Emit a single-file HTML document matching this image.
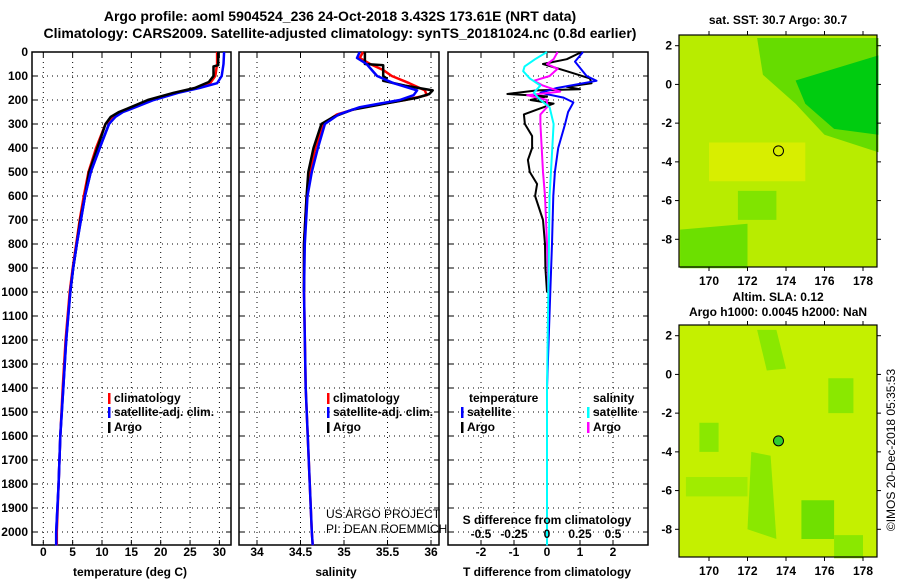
<!DOCTYPE html>
<html><head><meta charset="utf-8">
<style>
html,body{margin:0;padding:0;background:#fff;}
svg{display:block;font-family:"Liberation Sans",Arial,sans-serif;}
.b{font-weight:bold;font-size:12px;}
.t{font-weight:bold;font-size:14px;}
</style></head>
<body>
<svg id="fig" width="900" height="580" viewBox="0 0 900 580">
<text class="t" x="340" y="21" text-anchor="middle">Argo profile: aoml 5904524_236 24-Oct-2018 3.432S 173.61E (NRT data)</text>
<text class="t" x="340" y="38" text-anchor="middle">Climatology: CARS2009. Satellite-adjusted climatology: synTS_20181024.nc (0.8d earlier)</text>
<g id="plots"></g>
</svg>
<script>
// ---- data ----
const depthTicks=[0,100,200,300,400,500,600,700,800,900,1000,1100,1200,1300,1400,1500,1600,1700,1800,1900,2000];
const tempTicks=[0,5,10,15,20,25,30];
const salTicks=[34,34.5,35,35.5,36];
const tdiffTicks=[-2,-1,0,1,2];
const sdiffTicks=[-0.5,-0.25,0,0.25,0.5];
const sdiffLabels=["-0.5","-0.25","0","0.25","0.5"];

const tClimDepth=[0,50,100,130,150,170,200,230,250,270,300,400,500,600,700,800,900,1000,1200,1400,1600,1800,2000,2055];
const tClim=[29.6,29.6,29.3,28.4,26.0,22.5,18.3,15.1,13.0,11.8,10.6,9.0,7.7,6.9,6.2,5.6,5.0,4.5,3.8,3.3,2.9,2.6,2.3,2.3];
const tSat=[30.8,30.7,30.4,29.6,26.6,23.0,18.8,15.7,13.6,12.3,11.2,9.6,8.1,7.1,6.4,5.7,5.1,4.6,3.9,3.4,2.9,2.6,2.2,2.2];
const tArgoDepth=[0,55,60,100,125,150,170,200,230,250,270,300,400,500,600,700,800,900,1000];
const tArgo=[29.8,29.8,29.0,29.0,28.2,25.8,22.2,17.8,14.9,12.9,11.5,10.6,9.2,7.8,7.1,6.3,5.7,5.1,4.6];

const sDepth=[0,25,50,75,100,130,160,180,200,230,260,300,400,500,600,800,1000,1400,2000,2055];
const sClim=[35.22,35.18,35.30,35.45,35.55,35.75,35.93,35.95,35.70,35.20,34.92,34.76,34.67,34.61,34.57,34.54,34.54,34.56,34.63,34.64];
const sSat=[35.18,35.15,35.26,35.32,35.38,35.57,35.84,35.80,35.64,35.18,34.94,34.78,34.70,34.63,34.58,34.55,34.54,34.56,34.63,34.64];
const sArgoDepth=[0,50,55,100,110,120,140,160,175,190,210,240,270,300,400,500,600,800,1000];
const sArgo=[35.24,35.24,35.45,35.45,35.49,35.45,35.70,36.02,35.98,35.85,35.55,35.10,34.88,34.74,34.65,34.59,34.57,34.54,34.54];

const dtSatDepth=[0,40,100,120,150,170,190,210,250,300,400,500,600,800,1000,1400,2055];
const dtSat=[1.09,0.85,1.2,1.5,0.3,-0.2,0.5,0.8,0.64,0.55,0.34,0.24,0.19,0.15,0.1,0.0,0.0];
const dtArgoDepth=[0,30,50,80,110,130,145,155,160,175,185,200,215,240,260,300,350,400,450,500,550,600,700,800,900,1000];
const dtArgo=[1.05,0.6,-0.12,0.6,1.3,1.35,0.6,1.0,-0.3,-1.2,0.0,-0.5,0.2,-0.3,-0.7,-0.67,-0.45,-0.45,-0.58,-0.52,-0.3,-0.36,-0.12,-0.06,-0.05,0.0];
const dsSatDepth=[0,30,60,80,110,140,170,200,230,300,400,600,1000,1400,2055];
const dsSat=[0.0,-0.09,-0.17,-0.18,-0.13,-0.05,-0.1,-0.05,0.02,0.05,0.04,0.02,0.01,0.0,0.0];
const dsArgoDepth=[0,30,50,70,100,120,140,165,180,200,230,260,300,400,500,600,800,1000];
const dsArgo=[0.08,0.05,0.0,0.08,0.02,-0.1,-0.03,0.1,-0.15,0.0,0.0,-0.05,-0.05,-0.04,-0.03,-0.015,0.0,0.01];

// ---- geometry ----
const NS="http://www.w3.org/2000/svg";
const g=document.getElementById('plots');
const top0=52, bot=545;
const yD=d=>top0+d*0.24;
const P1={x0:32,x1:231}, P2={x0:239,x1:439}, P3={x0:448,x1:648};
const xT=v=>43.3+v*5.87;
const xS=v=>257+(v-34)*87;
const xDT=v=>547+v*33;
const xDS=v=>547+v*132;
function el(tag,attrs,parent){const e=document.createElementNS(NS,tag);for(const k in attrs)e.setAttribute(k,attrs[k]);(parent||g).appendChild(e);return e;}
function txt(x,y,s,cls,anchor){const e=el('text',{x:x,y:y,'class':cls||'b','text-anchor':anchor||'start'});e.textContent=s;return e;}

function frame(P,name){
  const r=el('rect',{x:P.x0,y:top0,width:P.x1-P.x0,height:bot-top0,fill:'none',stroke:'#000','stroke-width':1.5});
  
  
  depthTicks.forEach(d=>{
    const l=el('line',{x1:P.x0,x2:P.x1,y1:yD(d),y2:yD(d),stroke:'#000','stroke-width':1,'stroke-dasharray':'1,4'});
    
    
    el('line',{x1:P.x0,x2:P.x0+5,y1:yD(d),y2:yD(d),stroke:'#000'});
    el('line',{x1:P.x1-5,x2:P.x1,y1:yD(d),y2:yD(d),stroke:'#000'});
  });
}
function vgrid(P,ticks,fx,labels,ly,name){
  ticks.forEach((t,i)=>{
    const x=fx(t);
    const l=el('line',{x1:x,x2:x,y1:top0,y2:bot,stroke:'#000','stroke-width':1,'stroke-dasharray':'1,4'});
    
    
    el('line',{x1:x,x2:x,y1:bot-5,y2:bot,stroke:'#000'});
    el('line',{x1:x,x2:x,y1:top0,y2:top0+5,stroke:'#000'});
    if(labels){const tl=txt(x,ly,labels[i],'b','middle');
      
      }
  });
}
function line(depths,vals,fx,color,name,w){
  const pts=depths.map((d,i)=>fx(vals[i]).toFixed(1)+','+yD(Math.min(d,2055)).toFixed(1)).join(' ');
  const p=el('polyline',{points:pts,fill:'none',stroke:color,'stroke-width':w||2.5,'stroke-linejoin':'round'});
  
  
}
function legend(x,y,color,label,name){
  el('rect',{x:x,y:y-9,width:2.5,height:11,fill:color});
  const t=txt(x+6,y,label);
  
  
}

// y tick labels
depthTicks.forEach(d=>{const t=txt(28,yD(d)+4,String(d),'b','end');
  
  });

// panel 1
frame(P1,'temperature-panel');
vgrid(P1,tempTicks,xT,tempTicks.map(String),556,'temperature');
line(tClimDepth,tClim,xT,'#f00','temperature-climatology-line');
line(tClimDepth,tSat,xT,'#00f','temperature-satellite-line');
line(tArgoDepth,tArgo,xT,'#000','temperature-argo-line');
line(tClimDepth.slice(10),tSat.slice(10),xT,'#00f','temperature-satellite-deep-line');
legend(108,402,'#f00','climatology','legend-climatology-temp');
legend(108,416,'#00f','satellite-adj. clim.','legend-satellite-temp');
legend(108,431,'#000','Argo','legend-argo-temp');
let xl=txt(130,576,'temperature (deg C)','b','middle');

// panel 2
frame(P2,'salinity-panel');
vgrid(P2,salTicks,xS,salTicks.map(String),556,'salinity');
line(sDepth,sClim,xS,'#f00','salinity-climatology-line');
line(sArgoDepth,sArgo,xS,'#000','salinity-argo-line');
line(sDepth,sSat,xS,'#00f','salinity-satellite-line');
legend(327,402,'#f00','climatology','legend-climatology-sal');
legend(327,416,'#00f','satellite-adj. clim.','legend-satellite-sal');
legend(327,431,'#000','Argo','legend-argo-sal');
xl=txt(336,576,'salinity','b','middle');
let c1=el('text',{x:326,y:518,'font-size':'12'});c1.textContent='US ARGO PROJECT';
let c2=el('text',{x:326,y:533,'font-size':'12'});c2.textContent='PI: DEAN ROEMMICH';

// panel 3
frame(P3,'difference-panel');
vgrid(P3,tdiffTicks,xDT,tdiffTicks.map(String),556,'t-difference');
line(dtArgoDepth,dtArgo,xDT,'#000','t-diff-argo-line',2);
line(dtSatDepth,dtSat,xDT,'#00f','t-diff-satellite-line',2);
line(dsArgoDepth,dsArgo,xDS,'#f0f','s-diff-argo-line',2);
line(dsSatDepth,dsSat,xDS,'#0ff','s-diff-satellite-line',2);
sdiffTicks.forEach((t,i)=>{const tl=txt(xDS(t),538,sdiffLabels[i],'b','middle');
  });
let st=txt(547,524,'S difference from climatology','b','middle');
xl=txt(547,576,'T difference from climatology','b','middle');
let lt=txt(469,402,'temperature');
legend(461,416,'#00f','satellite','legend-t-satellite');
legend(461,431,'#000','Argo','legend-t-argo');
let ls=txt(593,402,'salinity');
legend(587,416,'#0ff','satellite','legend-s-satellite');
legend(587,431,'#f0f','Argo','legend-s-argo');

// ---- maps ----
const lonTicks=[170,172,174,176,178];
const latTicks=[2,0,-2,-4,-6,-8];
const argoLon=173.61, argoLat=-3.432;
const xL=v=>709+(v-170)*19.25;
function map(y0,name,base,patches,dotFill){
  const yl=v=>y0+10.7+(2-v)*19.36;
  const mg=el('g',{});
  
  
  el('rect',{x:679,y:y0,width:198,height:232,fill:base},mg);
  patches.forEach(p=>el('polygon',{points:p.pts.map(q=>xL(q[0]).toFixed(1)+','+yl(q[1]).toFixed(1)).join(' '),fill:p.c},mg));
  el('circle',{cx:xL(argoLon),cy:yl(argoLat),r:5,fill:dotFill,stroke:'#000','stroke-width':1},mg);
  el('rect',{x:679,y:y0,width:198,height:232,fill:'none',stroke:'#000','stroke-width':1.2},mg);
  lonTicks.forEach(t=>{el('line',{x1:xL(t),x2:xL(t),y1:y0,y2:y0-4,stroke:'#000'},mg);el('line',{x1:xL(t),x2:xL(t),y1:y0+232,y2:y0+236,stroke:'#000'},mg);
    const tl=txt(xL(t),y0+250,String(t),'b','middle');});
  latTicks.forEach(t=>{el('line',{x1:675,x2:679,y1:yl(t),y2:yl(t),stroke:'#000'},mg);el('line',{x1:877,x2:881,y1:yl(t),y2:yl(t),stroke:'#000'},mg);
    const tl=txt(672,yl(t)+4,String(t),'b','end');});
}
map(35,'sst-map','#b8ec00',[
  {c:'#66dc00',pts:[[172.5,2.4],[178.8,2.4],[178.8,-3.5],[176,-2.6],[174.5,-1],[172.8,0.5]]},
  {c:'#00cc10',pts:[[174.5,0.2],[178.8,1.5],[178.8,-2.6],[176.5,-2.3],[175,-1.0]]},
  {c:'#6ce000',pts:[[168.5,-7.5],[172,-7.2],[172,-9.5],[168.5,-9.5]]},
  {c:'#80e400',pts:[[171.5,-5.5],[173.5,-5.5],[173.5,-7],[171.5,-7]]},
  {c:'#d8ee00',pts:[[170,-3],[175,-3],[175,-5],[170,-5]]}
],'none');
map(325,'sla-map','#c4f000',[
  {c:'#8ae800',pts:[[172.5,2.3],[173.5,2.3],[174,0.3],[173,0.2]]},
  {c:'#8ae800',pts:[[172.2,-4],[173.2,-4.2],[173.5,-8.5],[172,-8]]},
  {c:'#70e000',pts:[[174.8,-6.5],[176.5,-6.5],[176.5,-8.5],[174.8,-8.5]]},
  {c:'#8ae800',pts:[[176.2,-0.2],[177.5,-0.2],[177.5,-2],[176.2,-2]]},
  {c:'#8ae800',pts:[[169.5,-2.5],[170.5,-2.5],[170.5,-4],[169.5,-4]]},
  {c:'#8ae800',pts:[[176.5,-8.3],[178,-8.3],[178,-9.5],[176.5,-9.5]]},
  {c:'#a0ec00',pts:[[168.8,-5.3],[172,-5.3],[172,-6.3],[168.8,-6.3]]}
],'#30cc30');
let m1=txt(778,24,'sat. SST: 30.7 Argo: 30.7','b','middle');
let m2=txt(778,301,'Altim. SLA: 0.12','b','middle');
let m3=txt(778,316,'Argo h1000: 0.0045 h2000: NaN','b','middle');
let im=el('text',{x:0,y:0,'font-size':'12',transform:'translate(895,450) rotate(-90)','text-anchor':'middle'});
im.textContent='©IMOS 20-Dec-2018 05:35:53';


</script>
</body></html>
